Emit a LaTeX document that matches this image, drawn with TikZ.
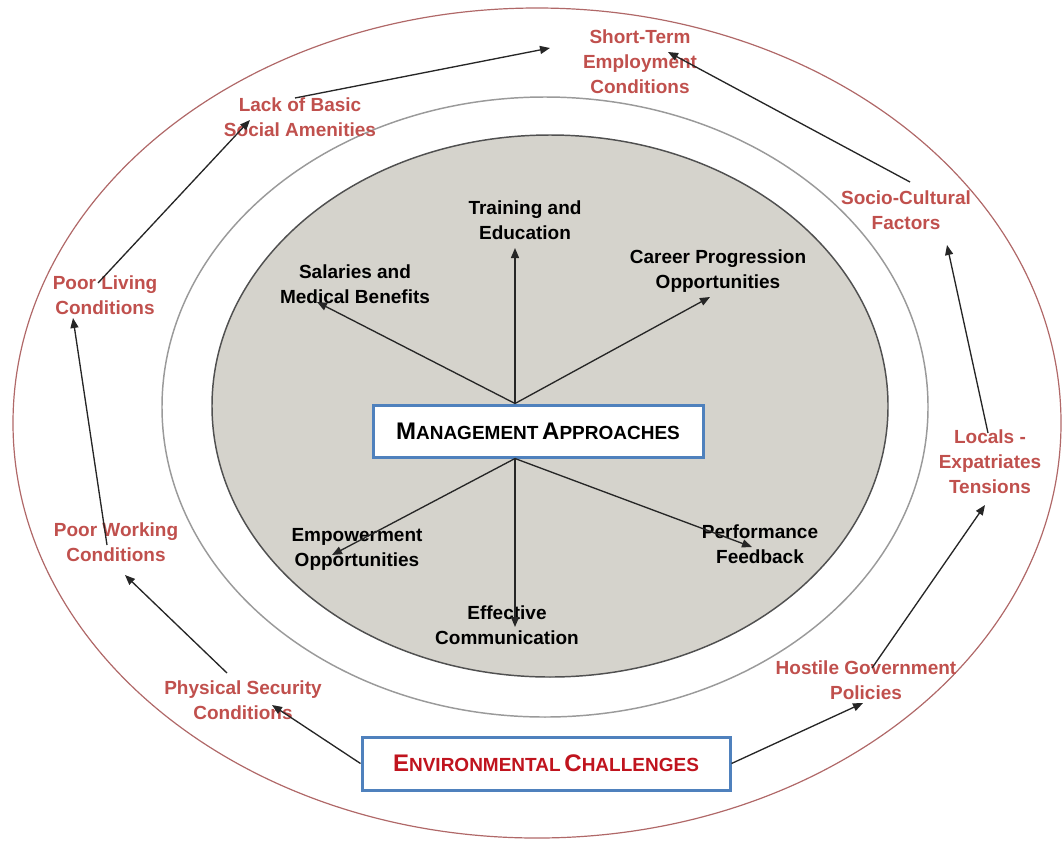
\documentclass[tikz,border=0pt]{standalone}
\usepackage{fontspec}
\setmainfont{Liberation Sans}
\usetikzlibrary{arrows.meta}
\definecolor{lblred}{HTML}{C0504D}
\definecolor{ecred}{HTML}{C0141E}
\definecolor{boxblue}{HTML}{4F81BD}
\definecolor{innerfill}{HTML}{D5D3CC}
\definecolor{outerline}{HTML}{B06868}
\definecolor{midline}{HTML}{9A9A9A}
\definecolor{innerline}{HTML}{505050}
\newcommand{\mysc}[2]{{\fontsize{18}{20}\selectfont #1}{\fontsize{14.25}{18}\selectfont #2}}
\begin{document}
\begin{tikzpicture}[x=0.75pt,y=-0.75pt,
  lbl/.style={inner sep=0pt, align=center, font=\bfseries\fontsize{14.25}{18.75}\selectfont},
  redlbl/.style={lbl, text=lblred},
  blacklbl/.style={lbl, text=black},
  bigbox/.style={draw=boxblue, line width=2.25pt, fill=white, inner sep=0pt, font=\bfseries},
  arr/.style={-{Triangle[length=7.5pt,width=6pt]}, line width=1pt, draw=black!85},
]
\useasboundingbox (0,0) rectangle (1062,840);

% rings
\draw[outerline, line width=0.9pt] (537,423) ellipse [x radius=393pt, y radius=311.25pt];
\draw[midline, line width=1.1pt] (545,407) ellipse [x radius=287.25pt, y radius=232.5pt];
\draw[innerline, fill=innerfill, line width=1.1pt] (550,406) ellipse [x radius=253.5pt, y radius=203.25pt];

% central boxes
\node[bigbox, minimum width=247.5pt, minimum height=39pt] (MA) at (538,431)
  {\mysc{M}{ANAGEMENT} \mysc{A}{PPROACHES}};
\node[bigbox, minimum width=276pt, minimum height=39.75pt, text=ecred] (EC) at (546,763.5)
  {\mysc{E}{NVIRONMENTAL} \mysc{C}{HALLENGES}};

% inner labels
\node[blacklbl] (TE) at (525,220) {Training and\\Education};
\node[blacklbl] (SM) at (355,284) {Salaries and\\Medical Benefits};
\node[blacklbl] (CP) at (718,271) {Career Progression\\Opportunities};
\node[blacklbl] (EO) at (357,549) {Empowerment\\Opportunities};
\node[blacklbl] (PF) at (760,544) {Performance\\Feedback};
\node[blacklbl] (EF) at (507,625) {Effective\\Communication};

% outer labels
\node[redlbl] (ST) at (640,62) {Short-Term\\Employment\\Conditions};
\node[redlbl] (LB) at (300,117) {Lack of Basic\\Social Amenities};
\node[redlbl] (SC) at (906,210) {Socio-Cultural\\Factors};
\node[redlbl] (PL) at (105,295) {Poor Living\\Conditions};
\node[redlbl] (LE) at (990,462) {Locals -\\Expatriates\\Tensions};
\node[redlbl] (PW) at (116,542) {Poor Working\\Conditions};
\node[redlbl] (PS) at (243,700) {Physical Security\\Conditions};
\node[redlbl] (HG) at (866,680) {Hostile Government\\Policies};

% inner arrows
\draw[arr] ([shift={(-23,0)}]MA.north) -- ([shift={(-10,28)}]TE.center);
\draw[arr] ([shift={(-23,0)}]MA.north) -- ([shift={(-38,18)}]SM.center);
\draw[arr] ([shift={(-23,0)}]MA.north) -- ([shift={(-8,26)}]CP.center);
\draw[arr] ([shift={(-23,0)}]MA.south) -- ([shift={(-25,6)}]EO.center);
\draw[arr] ([shift={(-23,0)}]MA.south) -- ([shift={(8,2)}]EF.center);
\draw[arr] ([shift={(-23,0)}]MA.south) -- ([shift={(-8,3)}]PF.center);

% outer cycle arrows
\draw[arr] (EC.west) -- ([shift={(29,5)}]PS.center);
\draw[arr] ([shift={(-16,-27)}]PS.center) -- ([shift={(9,33)}]PW.center);
\draw[arr] ([shift={(-9,3)}]PW.center) -- ([shift={(-32,23)}]PL.center);
\draw[arr] ([shift={(-7,-12)}]PL.center) -- ([shift={(-50,3)}]LB.center);
\draw[arr] ([shift={(-5,-19)}]LB.center) -- ([shift={(-90,-14)}]ST.center);
\draw[arr] ([shift={(4,-28)}]SC.center) -- ([shift={(28,-10)}]ST.center);
\draw[arr] ([shift={(-2,-29)}]LE.center) -- ([shift={(41,35)}]SC.center);
\draw[arr] ([shift={(6,-12)}]HG.center) -- ([shift={(-5,43)}]LE.center);
\draw[arr] (EC.east) -- ([shift={(-3,23)}]HG.center);
\end{tikzpicture}
\end{document}
